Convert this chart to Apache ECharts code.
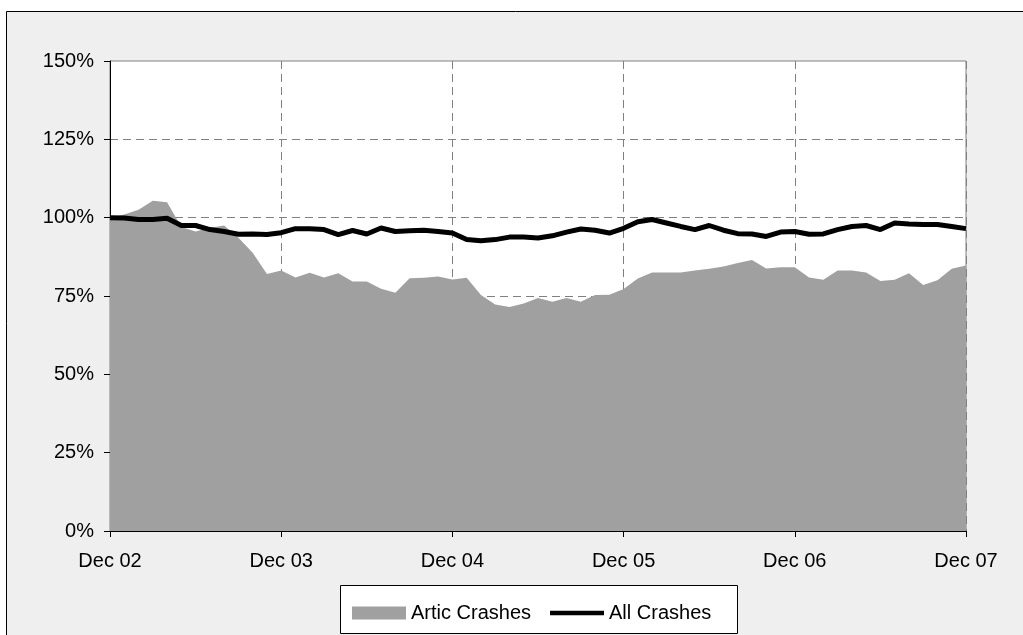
<!DOCTYPE html>
<html>
<head>
<meta charset="utf-8">
<script src="https://cdn.jsdelivr.net/npm/echarts@6/dist/echarts.min.js"></script>
<style>
html,body{margin:0;padding:0;background:#ffffff;}
#chart{width:1023px;height:635px;}
</style>
</head>
<body>
<div id="chart"></div>
<script>
const categories = [
  "Dec 02","Jan 03","Feb 03","Mar 03","Apr 03","May 03","Jun 03","Jul 03","Aug 03","Sep 03","Oct 03","Nov 03",
  "Dec 03","Jan 04","Feb 04","Mar 04","Apr 04","May 04","Jun 04","Jul 04","Aug 04","Sep 04","Oct 04","Nov 04",
  "Dec 04","Jan 05","Feb 05","Mar 05","Apr 05","May 05","Jun 05","Jul 05","Aug 05","Sep 05","Oct 05","Nov 05",
  "Dec 05","Jan 06","Feb 06","Mar 06","Apr 06","May 06","Jun 06","Jul 06","Aug 06","Sep 06","Oct 06","Nov 06",
  "Dec 06","Jan 07","Feb 07","Mar 07","Apr 07","May 07","Jun 07","Jul 07","Aug 07","Sep 07","Oct 07","Nov 07",
  "Dec 07"
];
const articCrashes = [
  100, 101, 102.5, 105.4, 104.9, 97, 95.6, 96.8, 97.5, 93.6, 88.8, 82,
  83.1, 80.9, 82.4, 80.9, 82.3, 79.6, 79.6, 77.3, 76, 80.7, 80.8, 81.2,
  80.3, 80.8, 75.3, 72.3, 71.5, 72.6, 74.4, 73.2, 74.4, 73.2, 75.3, 75.4,
  77.2, 80.6, 82.5, 82.5, 82.5, 83.1, 83.7, 84.4, 85.5, 86.5, 83.8, 84.2,
  84.2, 80.9, 80.2, 83.1, 83.1, 82.5, 79.8, 80.2, 82.3, 78.5, 80, 83.7,
  84.7
];
const allCrashes = [
  100, 99.9, 99.4, 99.4, 99.8, 97.5, 97.5, 96.2, 95.6, 94.7, 94.8, 94.6,
  95.2, 96.5, 96.5, 96.2, 94.6, 95.9, 94.8, 96.7, 95.6, 95.8, 96, 95.6,
  95.1, 93, 92.6, 93, 93.8, 93.8, 93.5, 94.2, 95.4, 96.4, 96, 95.1,
  96.6, 98.7, 99.4, 98.3, 97.2, 96.2, 97.5, 96, 94.9, 94.8, 94, 95.4,
  95.6, 94.7, 94.8, 96.2, 97.2, 97.5, 96.2, 98.3, 98, 97.8, 97.8, 97.2,
  96.5
];
const seriesNames = ["Artic Crashes", "All Crashes"];

const FONT = "'Liberation Sans', Arial, sans-serif";
const chart = echarts.init(document.getElementById('chart'), null, {renderer: 'canvas'});
chart.setOption({
  animation: false,
  backgroundColor: '#ffffff',
  textStyle: {fontFamily: FONT, color: '#000'},
  graphic: [
    {type: 'rect', z: -100, shape: {x: 6.5, y: 11.5, width: 1100, height: 700},
     style: {fill: '#efefef', stroke: '#000', lineWidth: 1}},
    {type: 'rect', z: 1, shape: {x: 340.5, y: 585.5, width: 397, height: 48},
     style: {fill: '#ffffff', stroke: '#000', lineWidth: 1}}
  ],
  grid: {left: 110, top: 61, right: 57, bottom: 104, show: true,
         backgroundColor: '#ffffff', borderColor: '#808080', borderWidth: 1, containLabel: false},
  legend: {
    left: 352, top: 603, padding: 0, itemWidth: 54, itemHeight: 13, itemGap: 19,
    symbolKeepAspect: true,
    textStyle: {fontFamily: FONT, fontSize: 20, color: '#000'},
    data: [
      {name: seriesNames[0], icon: 'rect', itemStyle: {color: '#a0a0a0'}},
      {name: seriesNames[1], icon: 'path://M0,0L54,0L54,4.5L0,4.5Z', itemStyle: {color: '#000'}}
    ]
  },
  xAxis: {
    type: 'category', data: categories, boundaryGap: false,
    axisLine: {lineStyle: {color: '#000', width: 1}},
    axisTick: {interval: 11, length: 6, lineStyle: {color: '#000'}},
    axisLabel: {interval: 11, margin: 20, fontSize: 20, fontFamily: FONT, color: '#000'},
    splitLine: {show: true, interval: 11, lineStyle: {color: '#808080', type: [8, 5], width: 1}}
  },
  yAxis: {
    type: 'value', min: 0, max: 150, interval: 25,
    axisLine: {show: true, lineStyle: {color: '#000', width: 1}},
    axisTick: {show: true, length: 6, lineStyle: {color: '#000'}},
    axisLabel: {formatter: '{value}%', margin: 16, fontSize: 20, fontFamily: FONT, color: '#000'},
    splitLine: {show: true, showMaxLine: false, lineStyle: {color: '#808080', type: [8, 5], width: 1}}
  },
  series: [
    {name: seriesNames[0], type: 'line', data: articCrashes, symbol: 'none', z: 2,
     lineStyle: {width: 0, color: '#a0a0a0'}, itemStyle: {color: '#a0a0a0'},
     areaStyle: {color: '#a0a0a0', opacity: 1}},
    {name: seriesNames[1], type: 'line', data: allCrashes, symbol: 'none', z: 5,
     lineStyle: {width: 5, color: '#000'}, itemStyle: {color: '#000'}}
  ]
});
</script>
</body>
</html>
